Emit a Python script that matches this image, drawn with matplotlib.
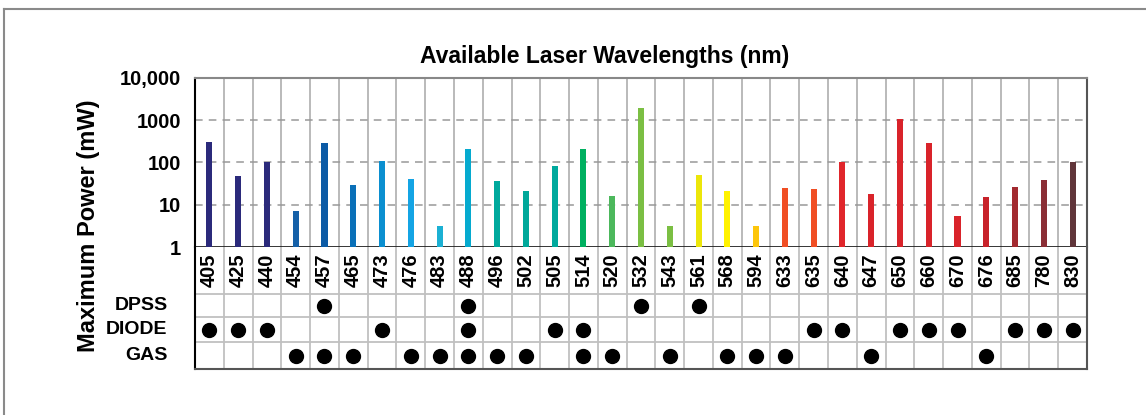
import numpy as np
import matplotlib.pyplot as plt
from matplotlib.lines import Line2D

plt.rcParams['font.family'] = ['Liberation Sans', 'DejaVu Sans']

wavelengths = [405, 425, 440, 454, 457, 465, 473, 476, 483, 488, 496, 502, 505, 514, 520,
               532, 543, 561, 568, 594, 633, 635, 640, 647, 650, 660, 670, 676, 685, 780, 830]
power_mw = [300, 48, 100, 7, 290, 30, 110, 40, 3.2, 210, 36, 21, 83, 210, 16,
            2000, 3.2, 50, 21, 3.2, 25, 23, 100, 18, 1100, 290, 5.3, 15, 26, 39, 100]
bar_colors = ['#2b2a7b', '#2b2a7b', '#2b2a7b', '#1560a8', '#0b5aa5', '#0a70b8', '#0b8fd0',
              '#14a4e4', '#1bb0d3', '#05aacf', '#00a99d', '#00a89a', '#00a99d', '#00b060',
              '#4cb85c', '#7bbf43', '#7bbf43', '#ece60a', '#fff200', '#fdc60b', '#f04e23',
              '#f04e23', '#e0262b', '#d9232a', '#d9232a', '#d9232a', '#d9232a', '#c7222a',
              '#a22a30', '#8a2e35', '#60353a']

laser_types = ['DPSS', 'DIODE', 'GAS']
dpss = [457, 488, 532, 561]
diode = [405, 425, 440, 473, 488, 505, 514, 635, 640, 650, 660, 670, 685, 780, 830]
gas = [454, 457, 465, 476, 483, 488, 496, 502, 514, 520, 543, 568, 594, 633, 647, 676]

W, H = 1146, 415
fig = plt.figure(figsize=(W / 100, H / 100), dpi=100)

def px_axes(x0, y0, x1, y1):
    return fig.add_axes([x0 / W, 1 - y1 / H, (x1 - x0) / W, (y1 - y0) / H])

n = len(wavelengths)
xs = np.arange(n) + 0.5

# --- bar chart
ax = px_axes(195, 78, 1087, 247)
ax.set_yscale('log')
ax.bar(xs, np.array(power_mw) - 1, bottom=1, width=0.21, color=bar_colors, zorder=3)
ax.set_xlim(0, n)
ax.set_ylim(1, 10000)
for i in range(1, n):
    ax.axvline(i, color='#b4b4b4', lw=1.3, zorder=1)
for v in [10, 100, 1000]:
    ax.axhline(v, color='#999999', lw=1.1, ls=(0, (5, 4)), zorder=2)
ax.set_xticks([])
ax.set_yticks([1, 10, 100, 1000, 10000])
ax.set_yticklabels(['1', '10', '100', '1000', '10,000'], fontsize=14.5, fontweight='bold')
ax.yaxis.set_minor_locator(plt.NullLocator())
ax.tick_params(axis='y', length=0, pad=10)
ax.spines['left'].set_color('black')
ax.spines['left'].set_linewidth(1.5)
ax.spines['bottom'].set_color('#222222')
ax.spines['bottom'].set_linewidth(2)
ax.spines['bottom'].set_capstyle('butt')
ax.spines['top'].set_color('#888888')
ax.spines['top'].set_linewidth(1.5)
ax.spines['right'].set_color('#555555')
ax.spines['right'].set_linewidth(1.5)

# --- table below chart
tax = px_axes(195, 247, 1087, 369)
row_edges = [0, 47, 70, 95, 122]
tax.set_xlim(0, n)
tax.set_ylim(122, 0)
tax.set_xticks([])
tax.set_yticks([])
for i in range(1, n):
    tax.axvline(i, color='#c0c0c0', lw=1.3)
for e in row_edges[1:-1]:
    tax.axhline(e, color='#c0c0c0', lw=1.3)
for s in ['left', 'right', 'bottom']:
    tax.spines[s].set_color('#555555')
    tax.spines[s].set_linewidth(1.5)
tax.spines['left'].set_color('black')
tax.spines['top'].set_visible(False)

for x, wl in zip(xs, wavelengths):
    tax.text(x, 23, str(wl), rotation=90, ha='center', va='center',
             fontsize=14.5, fontweight='bold')

for r, (name, members) in enumerate(zip(laser_types, [dpss, diode, gas])):
    yc = (row_edges[r + 1] + row_edges[r + 2]) / 2
    tax.text(-0.95, yc, name, ha='right', va='center', fontsize=14, fontweight='bold',
             clip_on=False)
    mx = [xs[wavelengths.index(w)] for w in members]
    tax.plot(mx, [yc] * len(mx), 'o', color='black', ms=10, clip_on=False)

# --- titles and frame
fig.text(605 / W, 1 - 57 / H, 'Available Laser Wavelengths (nm)', ha='center', va='center',
         fontsize=16.5, fontweight='bold')
fig.text(88 / W, 1 - 226 / H, 'Maximum Power (mW)', ha='center', va='center',
         rotation=90, fontsize=17, fontweight='bold')

fig.add_artist(Line2D([4 / W, 1], [1 - 9 / H, 1 - 9 / H], color='#8a8a8a', lw=1.5))
fig.add_artist(Line2D([4 / W, 4 / W], [0, 1 - 9 / H], color='#8a8a8a', lw=1.5))

fig.savefig('out.png', dpi=100)
